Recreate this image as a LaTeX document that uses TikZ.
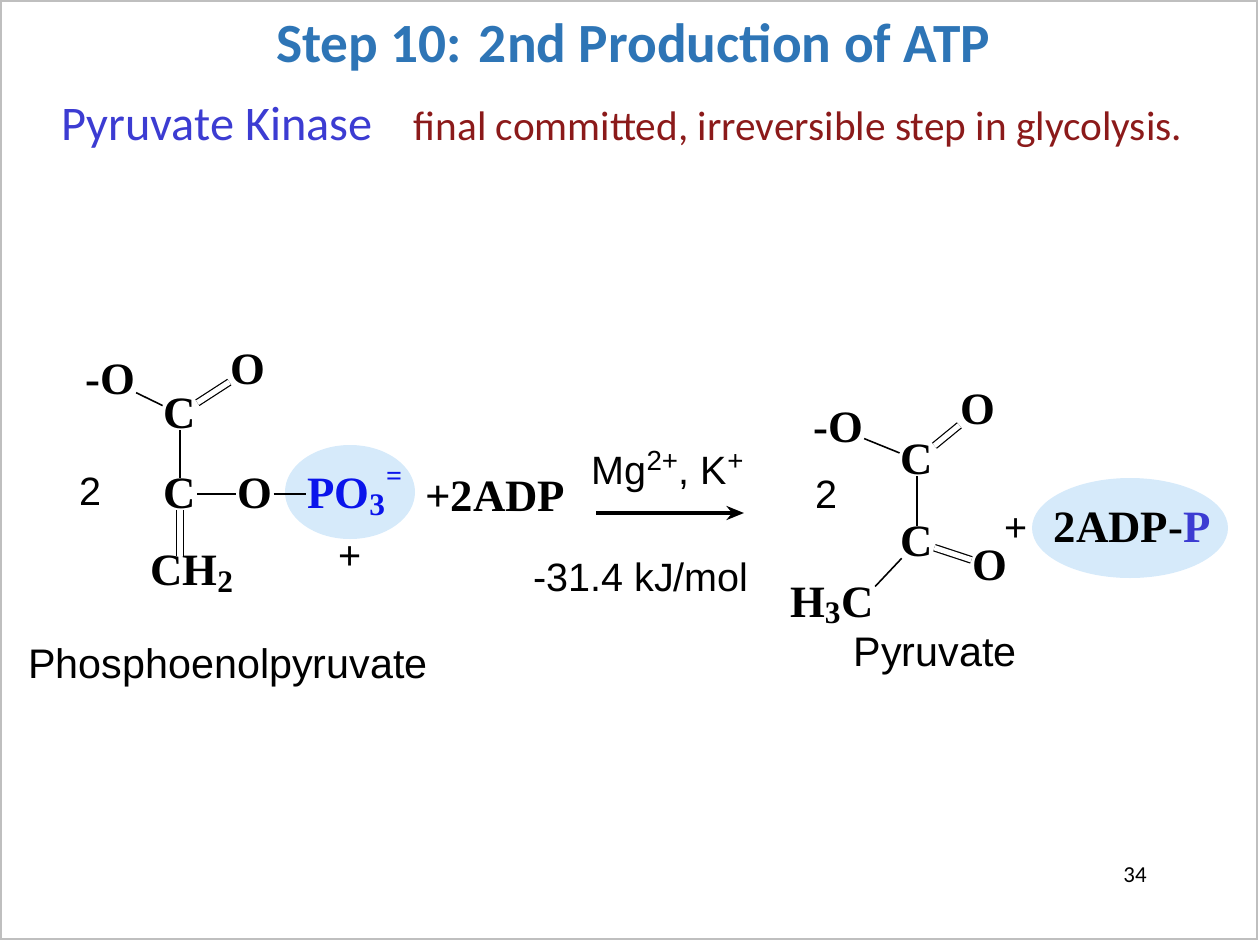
\documentclass[tikz,border=0pt]{standalone}
\usepackage{fontspec}
\setmainfont{Liberation Serif}
\newfontfamily\calfnt{Carlito}
\newfontfamily\ari{Liberation Sans}
\usetikzlibrary{arrows.meta}
\definecolor{ttl}{RGB}{46,117,182}
\definecolor{kin}{RGB}{60,60,210}
\definecolor{dred}{RGB}{139,26,26}
\definecolor{pb}{RGB}{10,20,235}
\definecolor{ell}{RGB}{214,234,250}
\begin{document}
\begin{tikzpicture}[x=0.02cm,y=-0.02cm,
  atom/.style={font=\fontsize{25.5}{25.5}\bfseries\selectfont, inner sep=0.5pt},
  lab/.style={font=\ari\fontsize{22.5}{22.5}\selectfont},
  bond/.style={line width=0.9pt},
  dbl/.style={line width=0.7pt, double distance=3pt},
  blob/.style={fill=ell, draw=none}]
\useasboundingbox (0,0) rectangle (1258,940);
\draw[gray!50, line width=0.8pt] (1,1) rectangle (1257,939);
\node (title) at (633,47) {\calfnt\bfseries\fontsize{31.5}{31.5}\selectfont\color{ttl}Step 10: 2nd Production of ATP};
\node (pk) at (217,128) {\calfnt\fontsize{27.5}{27.5}\selectfont\color{kin}Pyruvate Kinase};
\node (fc) at (798,130) {\calfnt\fontsize{23.5}{23.5}\selectfont\color{dred}final committed, irreversible step in glycolysis.};
% left molecule
\fill[blob] (350,492) ellipse [x radius=65, y radius=47];
\node[atom] (lom) at (110,380) {-O};
\node[atom] (lo1) at (248,370) {O};
\node[atom] (lc1) at (180,414) {C};
\node[atom] (lc2) at (180,494) {C};
\node[atom] (lo2) at (255,494) {O};
\node[atom, text=pb, anchor=west] (lp) at (306,494) {PO$_\mathbf{3}$\raisebox{1.1ex}{\fontsize{16}{16}\selectfont =}};
\node[atom] (lch) at (192,574) {CH$_\mathbf{2}$};
\coordinate (lch1) at (180,556);
\node[lab] (l2) at (90,492) {2};
\node[atom, anchor=west] (adp) at (424,497) {+2ADP};
\node[lab] (lplus) at (350,558) {+};
\node[lab, font=\ari\fontsize{23.5}{23.5}\selectfont] (pep) at (228,668) {Phosphoenolpyruvate};
\draw[bond] (lom) -- (lc1);
\draw[dbl] (lc1) -- (lo1);
\draw[bond] (lc1) -- (lc2);
\draw[bond] (lc2) -- (lo2);
\draw[bond] (lo2) -- (lp.west);
\draw[dbl] (lc2) -- (lch1);
% arrow
\coordinate (a1) at (596,513);
\coordinate (a2) at (744,513);
\draw[line width=1.8pt, -{Stealth[length=10pt,width=8pt]}] (a1) -- (a2);
\node[lab] (mg) at (668,472) {Mg\textsuperscript{2+}, K\textsuperscript{+}};
\node[lab] (dg) at (641,577) {-31.4 kJ/mol};
% right molecule
\fill[blob] (1130,528) ellipse [x radius=98, y radius=50];
\node[atom] (rom) at (838,428) {-O};
\node[atom] (ro1) at (978,410) {O};
\node[atom] (rc1) at (917,460) {C};
\node[atom] (rc2) at (917,542) {C};
\node[atom] (ro2) at (990,566) {O};
\node[atom] (rme) at (832,606) {H$_\mathbf{3}$C};
\node[lab] (r2) at (826,495) {2};
\node[lab] (rplus) at (1016,530) {+};
\node[atom] (radp) at (1132,528) {2ADP-\textcolor{kin}{P}};
\node[lab, font=\ari\fontsize{23.5}{23.5}\selectfont] (pyr) at (935,657) {Pyruvate};
\draw[bond] (rom) -- (rc1);
\draw[dbl] (rc1) -- (ro1);
\draw[bond] (rc1) -- (rc2);
\draw[dbl] (rc2) -- (ro2);
\draw[bond] (rc2) -- (rme.north east);
\node (pg) at (1135,875) {\calfnt\fontsize{13}{13}\selectfont 34};
\end{tikzpicture}
\end{document}
